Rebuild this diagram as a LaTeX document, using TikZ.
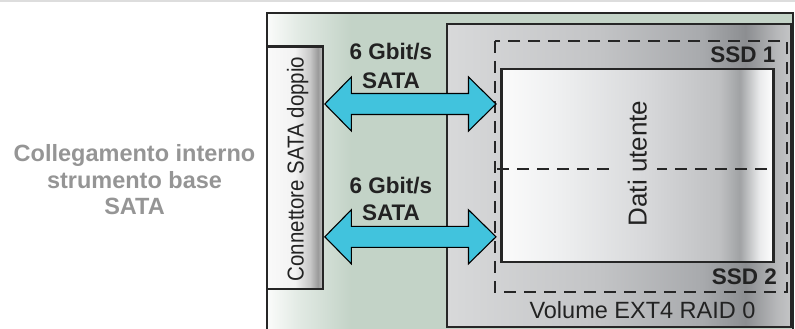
\documentclass[tikz,border=0pt]{standalone}
\usepackage{fontspec}
\setmainfont{Liberation Sans}
\usetikzlibrary{calc}
\definecolor{lineC}{HTML}{262626}
\definecolor{txtC}{HTML}{222222}
\definecolor{leftC}{HTML}{959595}
\definecolor{arrowC}{HTML}{41C3DD}
\definecolor{topC}{HTML}{DDDDDD}
\definecolor{gW}{HTML}{FBFCFB}
\definecolor{gM}{HTML}{E2EAE4}
\definecolor{gG}{HTML}{C3D3C7}
\definecolor{vA}{HTML}{D8D9DA}
\definecolor{vB}{HTML}{C3C4C6}
\definecolor{vC}{HTML}{A8AAAD}
\definecolor{vD}{HTML}{8C8E91}
\definecolor{vE}{HTML}{B6B7B9}
\definecolor{vF}{HTML}{C4C5C6}
\definecolor{dA}{HTML}{FBFBFB}
\definecolor{dB}{HTML}{EEEFF0}
\definecolor{dC}{HTML}{D6D7D9}
\definecolor{dD}{HTML}{BFC0C2}
\definecolor{dE}{HTML}{A0A2A4}
\definecolor{dF}{HTML}{E9EAEB}
\definecolor{cA}{HTML}{FAFAFA}
\definecolor{cB}{HTML}{F2F2F2}
\definecolor{cC}{HTML}{C8C8C8}
\definecolor{cD}{HTML}{9A9A9A}
\definecolor{cE}{HTML}{C4C4C4}
\pgfdeclarehorizontalshading{greenbg}{100bp}{color(0bp)=(gW); color(25bp)=(gW); color(28bp)=(gM); color(33bp)=(gG); color(75bp)=(gG); color(100bp)=(gG)}
\pgfdeclarehorizontalshading{volbg}{100bp}{color(0bp)=(vA); color(25bp)=(vA); color(47bp)=(vB); color(62bp)=(vC); color(68.4bp)=(vD); color(72.8bp)=(vE); color(75bp)=(vF); color(100bp)=(vF)}
\pgfdeclarehorizontalshading{databg}{100bp}{color(0bp)=(dA); color(25bp)=(dA); color(35.8bp)=(dB); color(52.3bp)=(dC); color(65.1bp)=(dD); color(68.8bp)=(dE); color(72.4bp)=(dF); color(75bp)=(white); color(100bp)=(white)}
\pgfdeclarehorizontalshading{connbg}{100bp}{color(0bp)=(cA); color(25bp)=(cA); color(50bp)=(cB); color(63.4bp)=(cC); color(70.5bp)=(cD); color(75bp)=(cE); color(100bp)=(cE)}
\tikzset{
  boxline/.style={draw=lineC, line width=2.4pt},
  dashline/.style={draw=lineC, line width=2pt, dash pattern=on 12pt off 8pt},
  bigarrow/.style={draw=black, line width=1.1pt, fill=arrowC, line join=miter},
  lbl/.style={text=txtC, inner sep=0pt, font=\bfseries\fontsize{22.5}{26}\selectfont},
  lefttxt/.style={text=leftC, inner sep=0pt, anchor=base, font=\bfseries\fontsize{23.5}{26}\selectfont},
}
\begin{document}
\begin{tikzpicture}[x=1pt,y=-1pt]
\useasboundingbox (0,0) rectangle (795,329);
\clip (0,0) rectangle (795,329);
% top light line
\draw[topC, line width=2pt] (0,1) -- (795,1);
% outer green box
\path[boxline, shading=greenbg] (266.7,13.3) rectangle (793,340);
% connector box
\path[boxline, shading=connbg] (266.7,46.7) rectangle (323,289);
\node[rotate=90, anchor=base, inner sep=0pt, text=txtC, font=\fontsize{23}{26}\selectfont] (conn) at (303.5,169) {\scalebox{0.89}[1]{Connettore SATA doppio}};
% volume box
\path[boxline, shading=volbg] (446.8,24) rectangle (791.2,327);
% dashed SSD box
\draw[dashline] (495,41) rectangle (786.8,291.8);
% data box
\path[boxline, shading=databg] (501.3,69.3) rectangle (773.5,262.2);
\coordinate (mL) at (497,169);
\coordinate (mG1) at (615,169);
\coordinate (mG2) at (657,169);
\coordinate (mR) at (773.5,169);
\draw[dashline] (mL) -- (mG1);
\draw[dashline, dash phase=2pt] (mG2) -- (mR);
\node[rotate=90, anchor=base, inner sep=0pt, text=txtC, font=\fontsize{26}{30}\selectfont] (dati) at (646.5,163.5) {Dati utente};
% labels
\node[lbl, anchor=base east] (ssd1) at (775.5,62.3) {SSD 1};
\node[lbl, anchor=base east] (ssd2) at (777,284.3) {SSD 2};
\node[anchor=base, inner sep=0pt, text=txtC, font=\fontsize{23.5}{26}\selectfont] (vol) at (642.5,318.3) {Volume EXT4 RAID 0};
\node[lbl, anchor=base] (r1a) at (391,59.5) {6 Gbit/s};
\node[lbl, anchor=base] (r1b) at (391,88.3) {SATA};
\node[lbl, anchor=base] (r2a) at (391,193) {6 Gbit/s};
\node[lbl, anchor=base] (r2b) at (391,220.7) {SATA};
% left text
\node[lefttxt] (lt1) at (134.5,161.8) {Collegamento interno};
\node[lefttxt] (lt2) at (134.5,188.3) {strumento base};
\node[lefttxt] (lt3) at (134.5,214.8) {SATA};
% arrows
\coordinate (a1l) at (324.8,104);
\coordinate (a1r) at (496,104);
\coordinate (a2l) at (324.8,236.8);
\coordinate (a2r) at (496,236.8);
\foreach \l/\r in {a1l/a1r, a2l/a2r}{
  \draw[bigarrow] (\l) -- ++(26.5,-27) -- ++(0,16.5) -- ($(\r)+(-27.5,-10.5)$) -- ++(0,-16.5) -- (\r)
    -- ++(-27.5,27) -- ++(0,-16.5) -- ($(\l)+(26.5,10.5)$) -- ++(0,16.5) -- cycle;
}
\end{tikzpicture}
\end{document}
